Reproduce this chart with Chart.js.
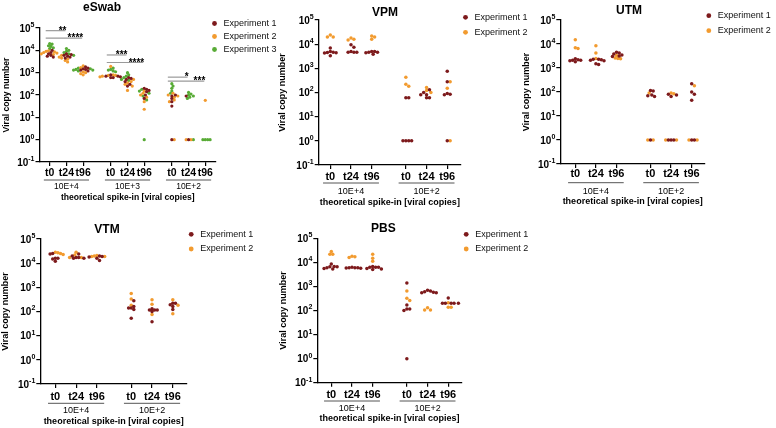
<!DOCTYPE html>
<html>
<head>
<meta charset="utf-8">
<script src="https://cdn.jsdelivr.net/npm/chart.js@4.4.1/dist/chart.umd.min.js"></script>
<style>
  body { margin: 0; background: #fff; }
  #page { position: relative; width: 776px; height: 428px; overflow: hidden; }
  canvas { position: absolute; }
</style>
</head>
<body>
<div id="page">
  <canvas id="eswab"></canvas>
  <canvas id="vpm"></canvas>
  <canvas id="utm"></canvas>
  <canvas id="vtm"></canvas>
  <canvas id="pbs"></canvas>
</div>
<script>
Chart.defaults.font.family = "'Liberation Sans', Arial, sans-serif";
Chart.defaults.color = '#000';
const FONT = "'Liberation Sans', Arial, sans-serif";

const timeLabels = ['t0', 't24', 't96'];
const eswabSpikes = ['10E+4', '10E+3', '10E+2'];
const spikes = ['10E+4', '10E+2'];
const expNames = ['Experiment 1', 'Experiment 2', 'Experiment 3'];
const expColors = ['#7d1a1c', '#f29b2f', '#58ab36'];
const yTicks = [1e5, 1e4, 1e3, 1e2, 1e1, 1, 0.1];
const yTickExps = ['5', '4', '3', '2', '1', '0', '-1'];
const xTitle = 'theoretical spike-in [viral copies]';
const yTitle = 'Viral copy number';

// one inner list per column: t0, t24, t96 of each spike-in level
const eswabExp1 = [
  [1.0e4, 8e3, 7e3, 6e3, 5.5e3, 5e3],
  [7e3, 6.5e3, 6e3, 5.5e3, 5e3, 4.5e3],
  [1.8e3, 1.6e3, 1.5e3, 1.4e3, 1.3e3, 1.2e3],
  [8e2, 7e2, 6.5e2, 6e2, 6e2, 7e2],
  [6e2, 5.5e2, 5e2, 4e2, 3e2, 2.5e2],
  [2e2, 1.8e2, 1.6e2, 1.4e2, 1e2, 7e1],
  [1e2, 9e1, 7e1, 5e1, 3.2e1, 1],
  [9e1, 1],
  []
];
const eswabExp2 = [
  [9.5e3, 9e3, 8.5e3, 8e3, 7.5e3, 7e3, 6.5e3],
  [6e3, 5e3, 4.5e3, 4e3, 3.5e3, 3e3],
  [2e3, 1.7e3, 1.1e3, 1e3, 9e2, 8e2],
  [1.9e3, 8e2, 7.5e2, 7e2, 6.5e2, 7.5e2],
  [5e2, 4e2, 3.5e2, 3e2, 2.5e2, 1.6e2],
  [1.5e2, 1.2e2, 1e2, 8e1, 5e1, 2.3e1],
  [1.2e2, 1e2, 9e1, 8e1, 6e1, 5e1, 1],
  [1, 1],
  [5.8e1]
];
const eswabExp3 = [
  [2.0e4, 1.9e4, 1.6e4, 1.5e4, 1.3e4, 1.2e4],
  [1.2e4, 1.0e4, 9e3, 8e3, 7e3, 6e3],
  [1.6e3, 1.5e3, 1.4e3, 1.3e3, 1.3e3, 1.2e3],
  [1.6e3, 1.4e3, 1.3e3, 1.2e3, 1.1e3],
  [1e3, 8e2, 7e2, 6e2, 5e2, 4.5e2],
  [1.8e2, 1.5e2, 1.2e2, 9e1, 6e1, 1],
  [3.2e2, 2.5e2, 2e2, 1.5e2, 1.2e2],
  [1.3e2, 1.1e2, 1e2, 9e1, 8e1, 7e1, 1],
  [1, 1, 1, 1]
];
const eswabSigFrom = [0, 0, 3, 3, 6, 6];
const eswabSigTo = [1, 2, 4, 5, 7, 8];
const eswabSigLevel = [7.6e4, 3.5e4, 6.2e3, 2.85e3, 6.3e2, 4.2e2];
const eswabSigStars = ['**', '****', '***', '****', '*', '***'];

const vpmExp1 = [
  [7e3, 5e3, 4.6e3, 4.5e3, 4.4e3, 4.3e3, 3.3e3],
  [9.5e3, 7.5e3, 5e3, 4.6e3, 4.6e3, 4.6e3],
  [5e3, 5e3, 4.6e3, 4.4e3, 4.6e3, 3.8e3],
  [6e1, 6e1, 1, 1, 1, 1],
  [1.3e2, 1e2, 8e1, 8e1, 6e1, 6e1],
  [7.5e2, 2.8e2, 9e1, 8.5e1, 8e1, 1]
];
const vpmExp2 = [
  [2.4e4, 2.0e4, 2.0e4],
  [1.8e4, 1.6e4, 1.5e4],
  [2.2e4, 2.0e4, 1.6e4],
  [4.3e2, 2.2e2, 1.8e2],
  [1.6e2, 1.2e2, 1e2],
  [2.8e2, 1.5e2, 1]
];

const utmExp1 = [
  [2.4e3, 2.2e3, 2.1e3, 2.0e3, 2.1e3, 1.8e3],
  [2.3e3, 2.2e3, 2.1e3, 2.0e3, 2.3e3, 1.5e3, 1.4e3],
  [4.5e3, 4.2e3, 3.8e3, 3.5e3, 3.2e3, 3e3],
  [1.1e2, 1.15e2, 7.5e1, 7e1, 6.5e1, 1],
  [8e1, 7.5e1, 6.5e1, 1, 1, 1],
  [2.2e2, 1e2, 8e1, 4.5e1, 1, 1]
];
const utmExp2 = [
  [1.5e4, 7e3, 6.5e3],
  [8.5e3, 4.2e3, 2.5e3],
  [3.3e3, 2.6e3, 2.5e3, 2.4e3],
  [9e1, 1, 1],
  [8.5e1, 9e1, 1, 1],
  [1.8e2, 1, 1]
];

const vtmExp1 = [
  [2.5e4, 2.4e4, 1.6e4, 1.6e4, 1.5e4, 1.2e4],
  [2.4e4, 2e4, 1.7e4, 1.6e4, 1.7e4, 1.6e4],
  [2e4, 1.8e4, 1.3e4, 1.6e4, 1.9e4],
  [1.4e2, 2.8e2, 1.6e2, 1.2e2, 5.2e1, 1.4e2],
  [1.15e2, 1.15e2, 1.3e2, 1.15e2, 1e2, 3.8e1],
  [2.2e2, 2.2e2, 1.6e2, 1.9e2, 1.2e2]
];
const vtmExp2 = [
  [2.7e4, 2.5e4, 2.8e4, 2.3e4],
  [2.8e4, 2.2e4, 1.7e4, 1.7e4],
  [2.1e4, 2e4, 1.9e4, 1.9e4],
  [5.5e2, 3.3e2, 1.8e2],
  [3.1e2, 2e2, 7.5e1],
  [3.1e2, 1.8e2, 8e1]
];

const pbsExp1 = [
  [8.5e3, 6.8e3, 6.5e3, 6.5e3, 6e3, 5.6e3, 5.3e3],
  [6.3e3, 6e3, 6e3, 6e3, 5.8e3, 5.7e3],
  [6.8e3, 6.3e3, 6.3e3, 6.3e3, 5.5e3, 5.3e3, 5e3],
  [1.4e3, 1.7e2, 1.15e2, 1e2, 1.15e2, 1],
  [7e2, 6.5e2, 6e2, 5.8e2, 5.5e2, 5.5e2],
  [3.3e2, 2e2, 2e2, 2e2, 2e2, 2e2]
];
const pbsExp2 = [
  [2.8e4, 2.2e4, 2.2e4],
  [1.8e4, 1.7e4, 1.6e4],
  [2.2e4, 1.5e4, 1.1e4],
  [6.5e2, 3.2e2, 2.6e2],
  [1.3e2, 1.05e2, 1.05e2],
  [2.1e2, 1.35e2, 1.35e2]
];

// spread points of one column sideways so they don't pile up (column scatter)
function swarm(series, pos, pxX, pxDec, gap) {
  const out = series.map(() => []);
  pos.forEach((p, col) => {
    const pts = [];
    series.forEach((s, si) => s[col].forEach(v => pts.push({si, v})));
    pts.sort((a, b) => b.v - a.v);
    const placed = [];
    pts.forEach(pt => {
      const py = Math.log10(pt.v) * pxDec;
      for (let i = 0; i < 80; i++) {
        const dx = (i % 2 ? 1 : -1) * Math.ceil(i / 2) * gap / 2;
        if (placed.every(q => (q.x - dx) ** 2 + (q.y - py) ** 2 >= gap * gap)) {
          placed.push({x: dx, y: py});
          out[pt.si].push({x: p + dx / pxX, y: pt.v});
          break;
        }
      }
    });
  });
  return out;
}

const extras = {
  id: 'extras',
  afterLayout(chart, args, o) {
    const t = chart.titleBlock;
    t.left = o.titleX - 60;
    t.right = o.titleX + 60;
    const lg = chart.legend;
    const pad = o.legendGap - 9;
    lg.left = o.legendX - pad - 5;
    lg.right = lg.left + 120;
    lg.top = o.legendY - pad - 4.5;
    lg.bottom = lg.top + 120;
  },
  afterDraw(chart, args, o) {
    const ctx = chart.ctx, xs = chart.scales.x, ys = chart.scales.y;
    ctx.save();
    ctx.fillStyle = '#000';
    // y tick labels as 10 with a raised exponent
    const right = chart.chartArea.left - 5;
    yTicks.forEach((v, i) => {
      const y = ys.getPixelForValue(v);
      ctx.textAlign = 'right';
      ctx.textBaseline = 'middle';
      ctx.font = 'bold 7px ' + FONT;
      const ew = ctx.measureText(yTickExps[i]).width;
      ctx.fillText(yTickExps[i], right, y - 3);
      ctx.font = 'bold 10px ' + FONT;
      ctx.fillText('10', right - ew, y + 1);
    });
    o.spikes.forEach((label, g) => {
      const a = xs.getPixelForValue(o.pos[g * 3] - 0.35);
      const b = xs.getPixelForValue(o.pos[g * 3 + 2] + 0.35);
      ctx.strokeStyle = '#555';
      ctx.lineWidth = 1;
      ctx.beginPath();
      ctx.moveTo(a, o.groupLineY);
      ctx.lineTo(b, o.groupLineY);
      ctx.stroke();
      ctx.font = o.groupFont + 'px ' + FONT;
      ctx.textAlign = 'center';
      ctx.textBaseline = 'middle';
      ctx.fillText(label, (a + b) / 2, o.groupLabelY);
    });
    if (o.sig) {
      o.sig.from.forEach((f, i) => {
        const x1 = xs.getPixelForValue(o.pos[f]) - 4;
        const x2 = xs.getPixelForValue(o.pos[o.sig.to[i]]) - 1;
        const y = ys.getPixelForValue(o.sig.level[i]);
        ctx.strokeStyle = '#9a9a9a';
        ctx.lineWidth = 1.2;
        ctx.beginPath();
        ctx.moveTo(x1, y);
        ctx.lineTo(x2, y);
        ctx.stroke();
        ctx.font = 'bold 10px ' + FONT;
        ctx.textAlign = 'right';
        ctx.textBaseline = 'alphabetic';
        ctx.fillText(o.sig.stars[i], x2 + 1, y + 3);
      });
    }
    ctx.restore();
  }
};

function makePanel(p) {
  const [bx, by, bw, bh] = p.box;
  const canvas = document.getElementById(p.id);
  canvas.width = bw;
  canvas.height = bh;
  canvas.style.left = bx + 'px';
  canvas.style.top = by + 'px';

  const pos = p.spikes.flatMap((s, g) => timeLabels.map((t, k) => g * 3.65 + k));
  const pxDec = (p.plotB - p.plotT) / 6;
  const pts = swarm(p.series, pos, p.step, pxDec, p.gap);
  const xMin = -(p.first - p.plotL) / p.step;
  const xMax = (p.plotR - p.first) / p.step;
  const titleLh = 12 * 1.2;
  const axLh = p.axisFont * 1.2;

  new Chart(canvas, {
    type: 'scatter',
    data: {
      datasets: p.series.map((s, i) => ({
        label: expNames[i],
        data: pts[i],
        backgroundColor: expColors[i],
        borderWidth: 0,
        pointRadius: p.dot,
        pointStyle: 'circle'
      }))
    },
    options: {
      responsive: false,
      animation: false,
      events: [],
      layout: { padding: { left: 0, top: 0, bottom: 0, right: bw - (p.plotR - bx) } },
      plugins: {
        title: {
          display: true,
          text: p.title,
          font: { size: 12, weight: 'bold' },
          padding: { top: p.titleY - by - titleLh / 2, bottom: p.plotT - p.titleY - titleLh / 2 }
        },
        legend: {
          position: 'chartArea',
          align: 'start',
          labels: {
            usePointStyle: true,
            boxWidth: 10,
            boxHeight: 3.4,
            padding: p.legendGap - 9,
            font: { size: 9 },
            color: '#111'
          }
        },
        tooltip: { enabled: false },
        extras: {
          titleX: p.titleX - bx,
          legendX: p.legendX - bx,
          legendY: p.legendY - by,
          legendGap: p.legendGap,
          spikes: p.spikes,
          pos: pos,
          groupLineY: p.groupLineY - by,
          groupLabelY: p.groupLabelY - by,
          groupFont: p.groupFont,
          sig: p.sig
        }
      },
      scales: {
        x: {
          type: 'linear',
          min: xMin,
          max: xMax,
          afterBuildTicks: s => { s.ticks = pos.map(v => ({ value: v })); },
          afterFit: s => { s.height = bh - (p.plotB - by); },
          ticks: {
            autoSkip: false,
            maxRotation: 0,
            padding: p.tickPad,
            font: { size: p.tickFont, weight: 'bold' },
            callback: (v, i) => timeLabels[i % 3]
          },
          grid: { drawOnChartArea: false, tickLength: 4, color: '#000', lineWidth: 1.2 },
          border: { color: '#000', width: 1.3 },
          title: {
            display: true,
            text: xTitle,
            font: { size: p.axisFont, weight: 'bold' },
            padding: { top: 0, bottom: bh - (p.axisTitleY - by) - axLh / 2 }
          }
        },
        y: {
          type: 'logarithmic',
          min: 0.1,
          max: 1e5,
          afterBuildTicks: s => { s.ticks = yTicks.map(v => ({ value: v })); },
          afterFit: s => { s.width = p.plotL - bx; },
          ticks: { display: false },
          grid: { drawOnChartArea: false, tickLength: 4, color: '#000', lineWidth: 1.2 },
          border: { color: '#000', width: 1.3 },
          title: {
            display: true,
            text: yTitle,
            font: { size: p.axisFont, weight: 'bold' },
            padding: { top: p.yTitleX - bx - axLh / 2, bottom: 0 }
          }
        }
      }
    },
    plugins: [extras]
  });
}

makePanel({
  id: 'eswab', title: 'eSwab', series: [eswabExp1, eswabExp2, eswabExp3], spikes: eswabSpikes,
  box: [0, 0, 290, 212], plotL: 39.5, plotT: 28, plotR: 216, plotB: 162, first: 49.7, step: 16.73,
  titleX: 102, titleY: 8, legendX: 215, legendY: 23.5, legendGap: 13,
  tickPad: 0.4, tickFont: 10.5, groupLineY: 180, groupLabelY: 187, axisTitleY: 198, yTitleX: 7,
  axisFont: 8.6, groupFont: 8.5, dot: 1.6, gap: 2.4,
  sig: { from: eswabSigFrom, to: eswabSigTo, level: eswabSigLevel, stars: eswabSigStars }
});
makePanel({
  id: 'vpm', title: 'VPM', series: [vpmExp1, vpmExp2], spikes: spikes,
  box: [262, 0, 280, 212], plotL: 318.7, plotT: 20, plotR: 461, plotB: 165, first: 330.3, step: 20.7,
  titleX: 385, titleY: 12.7, legendX: 466, legendY: 17.3, legendGap: 15,
  tickPad: 1.4, tickFont: 11, groupLineY: 183, groupLabelY: 192, axisTitleY: 203, yTitleX: 283,
  axisFont: 9, groupFont: 9, dot: 1.75, gap: 2.9
});
makePanel({
  id: 'utm', title: 'UTM', series: [utmExp1, utmExp2], spikes: spikes,
  box: [520, 0, 256, 212], plotL: 560.3, plotT: 20, plotR: 705, plotB: 164, first: 575.3, step: 20.6,
  titleX: 629, titleY: 11, legendX: 709.3, legendY: 15.7, legendGap: 15,
  tickPad: -1, tickFont: 11, groupLineY: 182.7, groupLabelY: 191.7, axisTitleY: 202, yTitleX: 526.7,
  axisFont: 9, groupFont: 9, dot: 1.75, gap: 2.7
});
makePanel({
  id: 'vtm', title: 'VTM', series: [vtmExp1, vtmExp2], spikes: spikes,
  box: [0, 215, 262, 213], plotL: 40.3, plotT: 239, plotR: 187, plotB: 384, first: 55.3, step: 20.8,
  titleX: 107, titleY: 230, legendX: 191.7, legendY: 234.3, legendGap: 14.7,
  tickPad: 2, tickFont: 11, groupLineY: 403.3, groupLabelY: 411, axisTitleY: 422, yTitleX: 6,
  axisFont: 9, groupFont: 9, dot: 1.75, gap: 2.6
});
makePanel({
  id: 'pbs', title: 'PBS', series: [pbsExp1, pbsExp2], spikes: spikes,
  box: [262, 215, 280, 213], plotL: 317.3, plotT: 238.3, plotR: 461.8, plotB: 382.7, first: 331.3, step: 20.7,
  titleX: 383.3, titleY: 229, legendX: 466.7, legendY: 234.3, legendGap: 14.7,
  tickPad: 1.7, tickFont: 11, groupLineY: 401, groupLabelY: 409, axisTitleY: 419, yTitleX: 283.3,
  axisFont: 9, groupFont: 9, dot: 1.75, gap: 2.9
});
</script>
</body>
</html>
